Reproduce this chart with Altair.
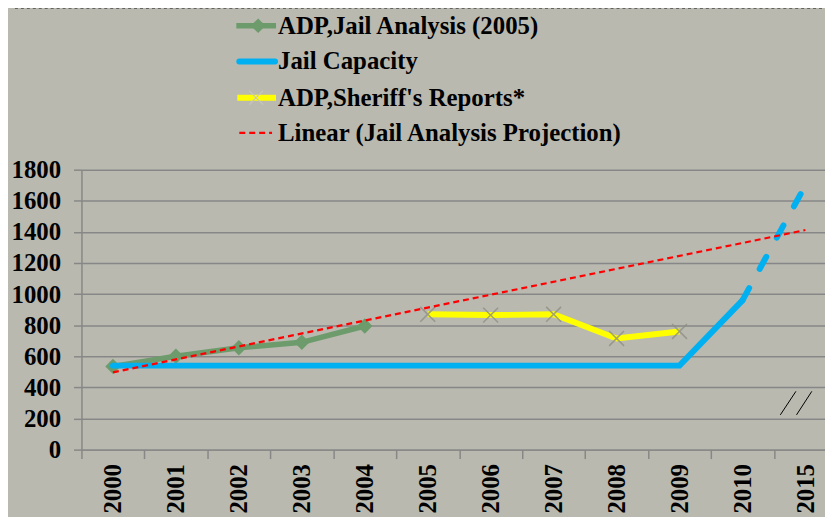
import altair as alt
import pandas as pd

# ---------------- data ----------------
years = ["2000", "2001", "2002", "2003", "2004", "2005", "2006",
         "2007", "2008", "2009", "2010", "2015"]

adp_years = ["2000", "2001", "2002", "2003", "2004"]
adp_values = [535, 600, 655, 690, 795]

cap_years = ["2000", "2001", "2002", "2003", "2004", "2005", "2006",
             "2007", "2008", "2009", "2010"]
cap_values = [540, 540, 540, 540, 540, 540, 540, 540, 540, 540, 960]

cap_proj_years = ["2010", "2015"]
cap_proj_values = [960, 1700]

sheriff_years = ["2005", "2006", "2007", "2008", "2009"]
sheriff_values = [870, 865, 870, 715, 760]

trend_years = ["2000", "2015"]
trend_values = [497, 1412]

y_ticks = [0, 200, 400, 600, 800, 1000, 1200, 1400, 1600, 1800]

series_names = ["ADP,Jail Analysis (2005)", "Jail Capacity",
                "ADP,Sheriff's Reports*", "Linear (Jail Analysis Projection)"]

# ---------------- styles ----------------
GREEN = "#6d9b6b"
BLUE = "#00b0f0"
YELLOW = "#ffff00"
RED = "#ff0000"
GRID = "#878787"
BG = "#b9b9b0"
FONT = "Liberation Serif"
FS = 25

df_adp = pd.DataFrame({"year": adp_years, "value": adp_values})
df_cap = pd.DataFrame({"year": cap_years, "value": cap_values})
df_proj = pd.DataFrame({"year": cap_proj_years, "value": cap_proj_values})
df_sher = pd.DataFrame({"year": sheriff_years, "value": sheriff_values})
df_trend = pd.DataFrame({"year": trend_years, "value": trend_values})

x_axis = alt.Axis(title=None, labelAngle=270, labelFont=FONT, labelFontWeight="bold",
                  labelFontSize=FS, labelColor="black", tickBand="extent",
                  tickSize=9, tickColor=GRID, tickWidth=1.5, domainColor=GRID,
                  domainWidth=1.5, labelPadding=5, grid=False)
y_axis = alt.Axis(title=None, values=y_ticks, format="d", labelFont=FONT,
                  labelFontWeight="bold", labelFontSize=FS, labelColor="black",
                  tickSize=8, tickColor=GRID, tickWidth=1.5, domainColor=GRID,
                  domainWidth=1.5, labelPadding=13, grid=True, gridColor=GRID,
                  gridWidth=1.5)

X = alt.X("year:N", sort=years,
          scale=alt.Scale(domain=years, range=[0, 761], paddingInner=0, paddingOuter=0),
          axis=x_axis)
Y = alt.Y("value:Q", scale=alt.Scale(domain=[0, 1800], nice=False), axis=y_axis)

green_line = alt.Chart(df_adp).mark_line(color=GREEN, strokeWidth=5.5).encode(x=X, y=Y)
green_pts = alt.Chart(df_adp).mark_point(shape="diamond", filled=True, color=GREEN,
                                         size=240, opacity=1).encode(x=X, y=Y)
blue_line = alt.Chart(df_cap).mark_line(color=BLUE, strokeWidth=6,
                                        strokeCap="round").encode(x=X, y=Y)
blue_proj = alt.Chart(df_proj).mark_line(color=BLUE, strokeWidth=6, strokeCap="round",
                                         strokeDash=[14, 22]).encode(x=X, y=Y)
XSHAPE = "M-1,-1L1,1M-1,1L1,-1"
yellow_line = alt.Chart(df_sher).mark_line(color=YELLOW, strokeWidth=6).encode(x=X, y=Y)
yellow_pts = alt.Chart(df_sher).mark_point(shape=XSHAPE, filled=False, color="#8f8f85",
                                           strokeWidth=1.5, size=225,
                                           opacity=0.8).encode(x=X, y=Y)
red_line = alt.Chart(df_trend).mark_line(color=RED, strokeWidth=2.2,
                                         strokeDash=[6, 4]).encode(x=X, y=Y)

# ---------------- manual legend & decorations ----------------
one = alt.Data(values=[{}])


def hline(x1, x2, y, color, width, dash=None, cap="butt"):
    kw = dict(color=color, strokeWidth=width, strokeCap=cap)
    if dash:
        kw["strokeDash"] = dash
    return alt.Chart(one).mark_rule(**kw).encode(
        x=alt.value(x1), x2=alt.value(x2), y=alt.value(y))


def label(text, y):
    return alt.Chart(one).mark_text(text=text, font=FONT, fontWeight="bold", fontSize=FS,
                                    align="left", baseline="middle", color="black").encode(
        x=alt.value(198), y=alt.value(y))


rows_y = [-145, -109, -72.5, -37]
legend_layers = [
    hline(156, 196, rows_y[0], GREEN, 5.5),
    alt.Chart(one).mark_point(shape="diamond", filled=True, color=GREEN, size=220,
                              opacity=1).encode(x=alt.value(178), y=alt.value(rows_y[0])),
    label(series_names[0], rows_y[0]),
    hline(159, 195, rows_y[1], BLUE, 6, cap="round"),
    label(series_names[1], rows_y[1]),
    hline(157, 196, rows_y[2], YELLOW, 6),
    alt.Chart(one).mark_point(shape=XSHAPE, filled=False, color="#c8c8c0", strokeWidth=1.2,
                              size=200, opacity=0.9).encode(x=alt.value(176),
                                                            y=alt.value(rows_y[2])),
    label(series_names[2], rows_y[2]),
    hline(159, 192, rows_y[3], RED, 2.2, dash=[6, 4]),
    label(series_names[3], rows_y[3]),
    # top border
    hline(-67, 751, -164.5, GREEN, 2.5),
    hline(-67, 751, -162.5, "#555555", 1, dash=[3, 3]),
]

breaks = [
    alt.Chart(one).mark_rule(color="black", strokeWidth=1).encode(
        x=alt.value(704), x2=alt.value(719.7), y=alt.value(247), y2=alt.value(223.3)),
    alt.Chart(one).mark_rule(color="black", strokeWidth=1).encode(
        x=alt.value(720.3), x2=alt.value(735.7), y=alt.value(247), y2=alt.value(223.3)),
]

chart = alt.layer(
    green_line, green_pts, blue_line, blue_proj, yellow_line, yellow_pts, red_line,
    *breaks, *legend_layers
).properties(
    width=749, height=282,
    autosize=alt.AutoSizeParams(type="none"),
    padding={"left": 74, "top": 161, "right": 0, "bottom": 66},
    background=BG,
).configure_view(stroke=None)

chart.save("out.html", embed_options={"renderer": "svg", "actions": False})
